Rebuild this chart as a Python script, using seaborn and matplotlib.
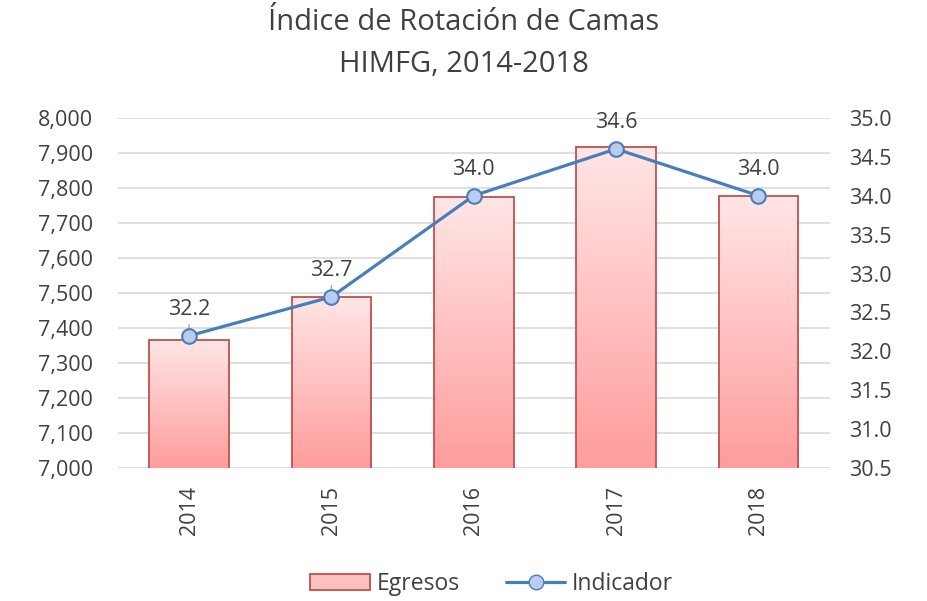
import numpy as np
import pandas as pd
import matplotlib
matplotlib.use("Agg")
import matplotlib.pyplot as plt
import seaborn as sns
from matplotlib.patches import Patch
from matplotlib.lines import Line2D
from matplotlib.colors import LinearSegmentedColormap

years = ["2014", "2015", "2016", "2017", "2018"]
egresos = [7366, 7489, 7773, 7918, 7776]
indicador = [32.2, 32.7, 34.0, 34.6, 34.0]
left_ticks = [7000, 7100, 7200, 7300, 7400, 7500, 7600, 7700, 7800, 7900, 8000]
right_ticks = [30.5, 31.0, 31.5, 32.0, 32.5, 33.0, 33.5, 34.0, 34.5, 35.0]

sns.set_theme(style="white")
plt.rcParams['font.family'] = ['Open Sans', 'DejaVu Sans']
txt = "#404040"
FS = 15.5

fig = plt.figure(figsize=(9.28, 6.01), dpi=100)
ax1 = fig.add_axes([0.127, 0.221, 0.767, 0.583])
df = pd.DataFrame({"Año": years, "Egresos": egresos})
sns.barplot(data=df, x="Año", y="Egresos", ax=ax1, width=0.56,
            color="#FFC0C0", edgecolor="#C0504D", linewidth=1.3, zorder=3)
ax1.set_ylim(7000, 8000)
ax1.set_yticks(left_ticks)
ax1.set_yticklabels([f"{v:,}" for v in left_ticks], fontsize=FS, color=txt)
ax1.set_xlabel("")
ax1.set_ylabel("")
ax1.tick_params(axis="x", labelrotation=90, labelsize=FS, colors=txt, length=0, pad=13)
ax1.tick_params(axis="y", length=0, pad=18)
ax1.grid(axis="y", color="#D9D9D9", linewidth=1.2, zorder=0)
ax1.set_axisbelow(True)
for s in ax1.spines.values():
    s.set_visible(False)

grad = np.linspace(0, 1, 256).reshape(-1, 1)
cmap = LinearSegmentedColormap.from_list("g", ["#FF9C9C", "#FFE6E6"])
for bar in ax1.patches:
    x0, y0 = bar.get_x(), bar.get_y()
    w, h = bar.get_width(), bar.get_height()
    bar.set_facecolor("none")
    im = ax1.imshow(grad, extent=[x0, x0 + w, 7000, y0 + h], origin="lower",
                    cmap=cmap, aspect="auto", zorder=2.5)
    im.set_clip_path(bar)
ax1.set_xlim(-0.5, 4.5)
ax1.set_ylim(7000, 8000)

ax2 = ax1.twinx()
sns.lineplot(x=np.arange(len(years)), y=indicador, ax=ax2, color="#4A7EBB",
             linewidth=2.3, marker="o", markersize=10.5, markerfacecolor="#B9CDEE",
             markeredgecolor="#4A7EBB", markeredgewidth=1.5, zorder=5)
ax2.set_ylim(30.5, 35.0)
ax2.set_yticks(right_ticks)
ax2.set_yticklabels([f"{v:.1f}" for v in right_ticks], fontsize=FS, color=txt)
ax2.tick_params(axis="y", length=0, pad=14)
for s in ax2.spines.values():
    s.set_visible(False)
ax2.grid(False)

for i, v in enumerate(indicador):
    ax2.annotate(f"{v:.1f}", xy=(i, v), xytext=(0, 19), textcoords="offset points",
                 ha="center", va="center", fontsize=FS, color=txt,
                 arrowprops=(dict(arrowstyle="-", color="#A6A6A6", lw=1,
                                  shrinkA=1, shrinkB=4) if i < 2 else None))

fig.text(0.5, 0.962, "Índice de Rotación de Camas", ha="center", va="center",
         fontsize=21, color=txt)
fig.text(0.5, 0.893, "HIMFG, 2014-2018", ha="center", va="center",
         fontsize=21, color=txt)

handles = [Patch(facecolor="#FFC0C0", edgecolor="#C0504D", linewidth=1.3, label="Egresos"),
           Line2D([0], [0], color="#4A7EBB", lw=2.3, marker="o", markersize=10.5,
                  markerfacecolor="#B9CDEE", markeredgecolor="#4A7EBB", label="Indicador")]
fig.legend(handles=handles, loc="center", bbox_to_anchor=(0.53, 0.028), ncol=2,
           frameon=False, prop={"size": 16.5}, labelcolor=txt,
           handlelength=2.6, columnspacing=2.0, handletextpad=0.3)

fig.savefig("out.png", dpi=100)
